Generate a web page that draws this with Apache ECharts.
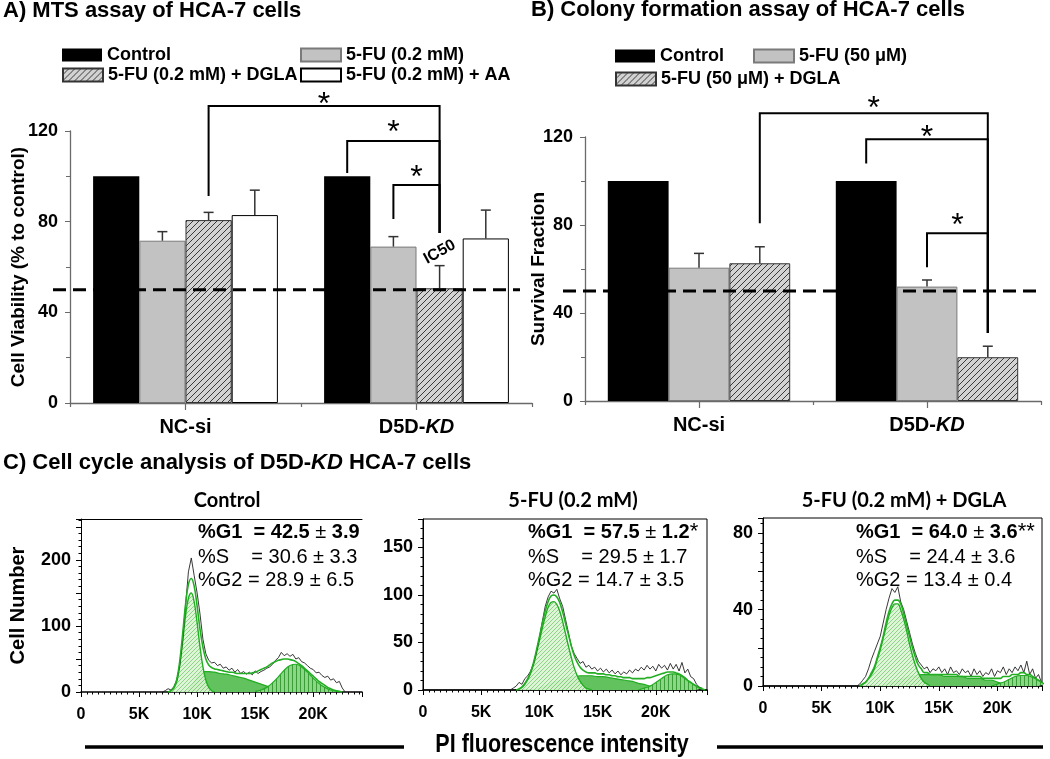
<!DOCTYPE html>
<html><head><meta charset="utf-8">
<script src="https://cdn.jsdelivr.net/npm/echarts@6/dist/echarts.min.js"></script>
<style>html,body{margin:0;padding:0;background:#fff}#c{width:1050px;height:759px}</style>
</head><body><div id="c"></div>
<script>
// ---------------- DATA ----------------
const CATEGORIES = ['NC-si', 'D5D-KD'];
// Panel A: MTS assay (% to control)
const A_NAMES = ['Control', '5-FU (0.2 mM)', '5-FU (0.2 mM) + DGLA', '5-FU (0.2 mM) + AA'];
const A_CONTROL = [100, 100];
const A_FU = [71.6, 69.0];
const A_FU_DGLA = [80.7, 50.6];
const A_FU_AA = [82.9, 72.6];
const A_ERR_FU = [4.0, 4.4];
const A_ERR_FU_DGLA = [3.4, 10.0];
const A_ERR_FU_AA = [11.0, 12.5];
// Panel B: colony formation (survival fraction)
const B_NAMES = ['Control', '5-FU (50 μM)', '5-FU (50 μM) + DGLA'];
const B_CONTROL = [100, 100];
const B_FU = [60.6, 52.0];
const B_FU_DGLA = [62.6, 19.9];
const B_ERR_FU = [6.5, 3.0];
const B_ERR_FU_DGLA = [7.5, 5.0];
const HALF_LINE = 50;
// significance brackets: [cat1, bar1, cat2, bar2, top, end1, end2, starY]
const A_BRACKETS = [[0, 2, 1, 2, 131, 91.3, 75, 135], [1, 0, 1, 2, 115.6, 101.5, 75, 122.7], [1, 1, 1, 2, 96.2, 81.2, 75, 102.8]];
const B_BRACKETS = [[0, 2, 1, 2, 130.8, 80.8, 30.9, 136.5], [1, 0, 1, 2, 119, 108, 30.9, 123], [1, 1, 1, 2, 76.3, 60.8, 30.9, 83.3]];
const IC50_LABEL = [1, 2, 66.6];
// Panel C: cell-cycle histograms (PI intensity bins)
const BIN = 250, COARSE = 500;
const C1_RAW_START = 7000;
const C1_RAW = [0,2,5,3,8,18,40,78,130,182,203,176,150,118,80,58,48,44,45,40,42,36,38,33,36,30,34,28,31,27,30,26,32,28,31,33,36,38,42,48,52,60,55,58,54,57,50,52,46,44,40,36,34,29,30,25,22,24,18,20,14,16,6,0];
const C1_G1_START = 7500;
const C1_G1 = [0,2,6,16,40,75,115,142,150,136,105,68,38,18,7,2,0];
const C1_FIT_START = 7500;
const C1_FIT = [0,2,7,19,46,87,132,163,172,160,130,95,68,50,41,37,35,34,33,32,31,30,30,29,28,28,28,28,28,29,30,32,34,36,38,41,44,46,48,49,50,50,49,48,46,43,40,36,32,28,24,20,16,13,10,7,5,3,2,1,0];
const C1_S_START = 9000;
const C1_S = [0,8,22,31,31,30,28,27,25,23,21,18,15,12,9,6,4,2,1,0];
const C1_G2_START = 15000;
const C1_G2 = [1,3,7,14,23,33,40,42,38,30,21,13,7,3,1,0];

const C2_RAW_START = 7500;
const C2_RAW = [0,2,4,8,6,12,15,20,28,40,55,72,88,98,104,102,106,96,88,74,60,46,38,33,28,30,24,26,22,24,20,23,19,22,18,21,17,20,16,19,17,21,18,22,20,24,21,26,22,25,20,27,23,26,21,28,22,27,20,29,18,22,14,12,6,3,0];
const C2_G1_START = 8000;
const C2_G1 = [0,1,3,6,11,18,27,39,52,65,77,87,92,93,90,83,72,59,46,34,23,15,9,5,2,1,0];
const C2_FIT_START = 8000;
const C2_FIT = [0,1,3,7,12,19,29,42,56,70,83,93,99,100,98,92,82,70,58,46,36,29,24,21,19,18,18,18,17,17,17,16,16,15,15,14,14,13,13,13,12,12,12,12,12,13,13,14,15,16,17,18,19,19,19,18,17,15,13,10,8,6,4,2,1,0];
const C2_S_START = 9500;
const C2_S = [0,2,4,7,9,11,13,14,15,15,15,14,14,13,12,11,10,9,7,6,4,3,2,1,0];
const C2_G2_START = 18500;
const C2_G2 = [0,2,4,8,12,16,17,16,12,8,4,2];

const C3_RAW_START = 8000;
const C3_RAW = [0,1,3,5,9,14,18,22,26,33,40,46,51,49,52,44,40,34,28,22,17,13,11,9,10,7,9,8,10,7,9,6,10,7,8,6,9,7,8,5,9,6,8,5,7,6,9,5,8,7,10,6,9,7,10,8,11,7,13,6,9,4,6,2];
const C3_G1_START = 8250;
const C3_G1 = [0,1,2,4,6,9,14,19,25,31,37,41,43,43,40,35,29,22,16,11,7,4,2,1,0];
const C3_FIT_START = 8250;
const C3_FIT = [0,1,2,4,7,10,15,20,26,33,39,43,45,45,43,38,32,26,20,15,11,9,7,7,6,6,6,6,6,6,6,6,6,6,5,5,5,5,5,5,5,5,4,4,4,4,4,4,4,5,5,5,6,6,6,7,7,6,6,5,4,3,2];
const C3_S_START = 10000;
const C3_S = [0,1,2,3,4,5,5,6,6,6,6,5,5,5,5,4,4,4,3,3,2,1,0];
const C3_G2_START = 19500;
const C3_G2 = [0,1,2,3.5,5,5.5,5.5,4.5,3,1];

const C_TITLES = ['Control', '5-FU (0.2 mM)', '5-FU (0.2 mM) + DGLA'];
const C_G1 = [['42.5', '3.9', ''], ['57.5', '1.2', '*'], ['64.0', '3.6', '**']];
const C_S = [['30.6', '3.3'], ['29.5', '1.7'], ['24.4', '3.6']];
const C_G2 = [['28.9', '6.5'], ['14.7', '3.5'], ['13.4', '0.4']];

// ---------------- STYLE HELPERS ----------------
const FONT = "'Liberation Sans', Arial, sans-serif";
const CAL = "Lato, 'Open Sans', sans-serif";
const GREEN = '#22ad22';

function pattern(bg, fg, size, kind, lw) {
  const cv = document.createElement('canvas'); cv.width = size; cv.height = size;
  const g = cv.getContext('2d'); g.fillStyle = bg; g.fillRect(0, 0, size, size);
  g.strokeStyle = fg; g.lineWidth = lw || 1; g.beginPath();
  if (kind === 'diag') {
    g.moveTo(0, size); g.lineTo(size, 0);
    g.moveTo(-size / 2, size / 2); g.lineTo(size / 2, -size / 2);
    g.moveTo(size / 2, size * 1.5); g.lineTo(size * 1.5, size / 2);
  } else { g.moveTo(0.5, 0); g.lineTo(0.5, size); }
  g.stroke();
  return { image: cv, repeat: 'repeat' };
}
const HATCH = pattern('#d2d2d2', '#3a3a3a', 6, 'diag', 1);
const G1_FILL = pattern('#dcf5d4', '#84d27c', 4, 'diag', 1);
const G2_FILL = pattern('#8ad885', '#3c9c38', 4, 'vert', 1);
const S_FILL = '#62c25d';

const kdRich = { i: { fontStyle: 'italic', fontWeight: 'bold', fontSize: 20, fontFamily: FONT, color: '#000' } };
function catAxis(gi, main) {
  if (main) return {
    type: 'category', gridIndex: gi, data: CATEGORIES, position: 'bottom',
    axisLine: { show: true, lineStyle: { color: '#6a6a6a', width: 1.3 } },
    axisTick: { show: true, alignWithLabel: true, length: 7, lineStyle: { color: '#6a6a6a', width: 1.2 } },
    axisLabel: { margin: 14, fontFamily: FONT, fontWeight: 'bold', fontSize: 20, color: '#000',
      formatter: v => v.replace('KD', '{i|KD}'), rich: kdRich },
    splitLine: { show: false }
  };
  return { type: 'category', gridIndex: gi, data: CATEGORIES, position: 'bottom', offset: 0,
    axisLine: { show: false }, axisTick: { show: true, interval: 0, length: 4, lineStyle: { color: '#6a6a6a', width: 1.2 } },
    axisLabel: { show: false }, splitLine: { show: false } };
}
function barY(gi, name, gap) {
  return { type: 'value', gridIndex: gi, min: 0, max: 120, interval: 40,
    axisLine: { show: true, lineStyle: { color: '#6a6a6a', width: 1.3 } },
    axisTick: { show: true, length: 5, lineStyle: { color: '#6a6a6a' } },
    minorTick: { show: true, splitNumber: 2, length: 4, lineStyle: { color: '#6a6a6a' } },
    splitLine: { show: false }, minorSplitLine: { show: false },
    axisLabel: { margin: 12, fontFamily: FONT, fontWeight: 'bold', fontSize: 18, color: '#000' },
    name, nameLocation: 'middle', nameGap: gap, nameMoveOverlap: false,
    nameTextStyle: { fontFamily: FONT, fontWeight: 'bold', fontSize: 19, color: '#000' } };
}
function histX(gi, max) {
  return { type: 'value', gridIndex: gi, min: 0, max, interval: 5000, position: 'bottom',
    axisLine: { show: true, onZero: false, lineStyle: { color: '#000', width: 1.5 } },
    axisTick: { show: true, length: 5, lineStyle: { color: '#000' } },
    minorTick: { show: true, splitNumber: 10, length: 2.5, lineStyle: { color: '#000' } },
    splitLine: { show: false }, minorSplitLine: { show: false },
    axisLabel: { showMaxLabel: false, margin: 15, fontFamily: FONT, fontWeight: 'bold', fontSize: 16, color: '#000',
      formatter: v => (v === 0 ? '0' : (v / 1000) + 'K') } };
}
function histY(gi, max, interval, every, split, name) {
  const o = { type: 'value', gridIndex: gi, min: 0, max, interval,
    axisLine: { show: true, onZero: false, lineStyle: { color: '#000', width: 1 } },
    axisTick: { show: true, length: 5, lineStyle: { color: '#000' } },
    minorTick: { show: true, splitNumber: split, length: 2.5, lineStyle: { color: '#000' } },
    splitLine: { show: false }, minorSplitLine: { show: false },
    axisLabel: { showMaxLabel: false, margin: 10, fontFamily: FONT, fontWeight: 'bold', fontSize: 18, color: '#000',
      formatter: v => (v % every === 0 ? String(v) : '') } };
  if (name) Object.assign(o, { name, nameLocation: 'middle', nameGap: 53, nameMoveOverlap: false,
    nameTextStyle: { fontFamily: FONT, fontWeight: 'bold', fontSize: 20, color: '#000' } });
  return o;
}

function barX(api, c, b, n) {
  const band = api.size([1, 0])[0];
  const bw = band * 0.8 / n;
  return api.coord([c, 0])[0] - band * 0.4 + bw * (b + 0.5);
}
function errRender(n) {
  return function (params, api) {
    const x = barX(api, api.value(0), api.value(1), n);
    const y0 = api.coord([0, api.value(2)])[1];
    const y1 = api.coord([0, api.value(2) + api.value(3)])[1];
    const st = { stroke: '#333', lineWidth: 1.5 };
    return { type: 'group', children: [
      { type: 'line', shape: { x1: x, y1: y0, x2: x, y2: y1 }, style: st },
      { type: 'line', shape: { x1: x - 5, y1: y1, x2: x + 5, y2: y1 }, style: st }] };
  };
}
function bracketRender(n) {
  return function (params, api) {
    const x1 = barX(api, api.value(0), api.value(1), n);
    const x2 = barX(api, api.value(2), api.value(3), n);
    const yT = api.coord([0, api.value(4)])[1];
    const y1 = api.coord([0, api.value(5)])[1];
    const y2 = api.coord([0, api.value(6)])[1];
    const ys = api.coord([0, api.value(7)])[1];
    return { type: 'group', children: [
      { type: 'polyline', shape: { points: [[x1, y1], [x1, yT], [x2, yT], [x2, y2]] }, style: { stroke: '#000', lineWidth: 2, fill: null } },
      { type: 'text', x: (x1 + x2) / 2, y: ys + 8, style: { text: '*', font: `32px ${FONT}`, fill: '#000',
        align: 'center', verticalAlign: 'middle', textAlign: 'center', textVerticalAlign: 'middle' } }] };
  };
}
function dashRender(extL, extR) {
  return function (params, api) {
    const cs = params.coordSys;
    const y = api.coord([0, api.value(1)])[1];
    return { type: 'line', shape: { x1: cs.x - extL, y1: y, x2: cs.x + cs.width - extR, y2: y },
      style: { stroke: '#000', lineWidth: 3, lineDash: [13, 7] } };
  };
}
function errData(list) {
  const out = [];
  list.forEach(([b, vals, errs]) => vals.forEach((v, c) => out.push([c, b, v, errs[c]])));
  return out;
}
function pts(start, step, vals) { return vals.map((v, i) => [start + i * step, v]); }
function histSeries(k, raw, rawS, g1, g1S, fit, fitS, s, sS, g2, g2S) {
  const ax = { xAxisIndex: 4 + k, yAxisIndex: 2 + k, symbol: 'none', silent: true, animation: false, type: 'line' };
  return [
    Object.assign({}, ax, { data: pts(sS, COARSE, s), smooth: 0.4, lineStyle: { color: GREEN, width: 1.2 }, areaStyle: { color: S_FILL, opacity: 1 }, z: 2 }),
    Object.assign({}, ax, { data: pts(g2S, COARSE, g2), smooth: 0.4, lineStyle: { color: GREEN, width: 1.2 }, areaStyle: { color: G2_FILL, opacity: 1 }, z: 3 }),
    Object.assign({}, ax, { data: pts(g1S, BIN, g1), smooth: 0.4, lineStyle: { color: GREEN, width: 1.4 }, areaStyle: { color: G1_FILL, opacity: 0.92 }, z: 4 }),
    Object.assign({}, ax, { data: pts(rawS, BIN, raw), lineStyle: { color: '#222', width: 0.9 }, z: 5 }),
    Object.assign({}, ax, { data: pts(fitS, BIN, fit), smooth: 0.4, lineStyle: { color: GREEN, width: 1.6 }, z: 6 })
  ];
}

const legendCommon = { padding: 0, itemWidth: 40, itemHeight: 13, icon: 'rect', selectedMode: false,
  textStyle: { fontFamily: FONT, fontWeight: 'bold', fontSize: 18, color: '#000', lineHeight: 20 } };
function lg(name, left, top) { return Object.assign({}, legendCommon, { data: [name], left, top }); }

// ---------------- GRAPHIC TEXT ----------------
const graphics = [];
function txt(x, y, text, font, align, extra, el) {
  graphics.push(Object.assign({ type: 'text', x, y, silent: true, style: Object.assign({ text, font, fill: '#000',
    align: align || 'left', verticalAlign: 'middle', textAlign: align || 'left', textVerticalAlign: 'middle' }, extra || {}) }, el || {}));
}
txt(3, 11, 'A) MTS assay of HCA-7 cells', `bold 22px ${FONT}`);
txt(531, 10, 'B) Colony formation assay of HCA-7 cells', `bold 22px ${FONT}`);
txt(3, 463, 'C) Cell cycle analysis of D5D-{i|KD} HCA-7 cells', `bold 22px ${FONT}`, 'left',
  { rich: { i: { font: `italic bold 22px ${FONT}`, fill: '#000' } } });
const subX = [227, 573, 904];
const statX = [198, 528, 856];
const statRich = { b: { font: `bold 20px ${FONT}`, fill: '#000' }, n: { font: `20px ${FONT}`, fill: '#000' },
  pm: { font: `20px ${FONT}`, fill: '#000' }, st: { font: `22px ${FONT}`, fill: '#000' } };
C_TITLES.forEach((t, i) => {
  txt(subX[i], 501, t, `bold 20px ${CAL}`, 'center');
  const g1 = C_G1[i], s = C_S[i], g2 = C_G2[i];
  txt(statX[i], 532, `{b|%G1  = ${g1[0]} }{pm|±}{b| ${g1[1]}}{st|${g1[2]}}`, `20px ${FONT}`, 'left', { rich: statRich });
  txt(statX[i], 557, `{n|%S    = ${s[0]} }{pm|±}{n| ${s[1]}}`, `20px ${FONT}`, 'left', { rich: statRich });
  txt(statX[i], 580, `{n|%G2 = ${g2[0]} }{pm|±}{n| ${g2[1]}}`, `20px ${FONT}`, 'left', { rich: statRich });
});
txt(562, 745, 'PI fluorescence intensity', `bold 25px ${FONT}`, 'center', null, { scaleX: 0.86 });
graphics.push({ type: 'line', silent: true, shape: { x1: 85, y1: 747, x2: 404, y2: 747 }, style: { stroke: '#000', lineWidth: 3.5 } });
graphics.push({ type: 'line', silent: true, shape: { x1: 717, y1: 747, x2: 1043, y2: 747 }, style: { stroke: '#000', lineWidth: 3.5 } });

// ---------------- OPTION ----------------
const barBase = { type: 'bar', barGap: '0%', barCategoryGap: '20%', animation: false, silent: true };
const blackStyle = { color: '#000' };
const grayStyle = { color: '#c2c2c2', borderColor: '#7a7a7a', borderWidth: 1 };
const hatchStyle = { color: HATCH, borderColor: '#333', borderWidth: 1 };
const whiteStyle = { color: '#fff', borderColor: '#000', borderWidth: 1 };

const option = {
  backgroundColor: '#fff',
  animation: false,
  graphic: graphics,
  legend: [
    lg(A_NAMES[0], 62, 45), lg(A_NAMES[1], 300, 45), lg(A_NAMES[2], 62, 65), lg(A_NAMES[3], 300, 65),
    lg(B_NAMES[0], 615, 46), lg(B_NAMES[1], 753, 46), lg(B_NAMES[2], 615, 69)
  ],
  grid: [
    { left: 70, top: 131, width: 462, height: 272 },
    { left: 585, top: 137, width: 456, height: 264 },
    { left: 81, top: 519, width: 281, height: 173 },
    { left: 423, top: 519, width: 284, height: 171, show: true, borderColor: '#000', borderWidth: 1, backgroundColor: 'transparent' },
    { left: 763, top: 518, width: 279, height: 168, show: true, borderColor: '#000', borderWidth: 1, backgroundColor: 'transparent' }
  ],
  xAxis: [
    catAxis(0, true), catAxis(0, false), catAxis(1, true), catAxis(1, false),
    histX(2, 24200), histX(3, 24400), histX(4, 23800),
    { type: 'value', gridIndex: 2, position: 'top', min: 0, max: 24200, axisLine: { show: true, onZero: false, lineStyle: { color: '#000', width: 1 } },
      axisTick: { show: false }, axisLabel: { show: false }, splitLine: { show: false } }
  ],
  yAxis: [
    barY(0, 'Cell Viability (% to control)', 42),
    barY(1, 'Survival Fraction', 37),
    histY(2, 262, 50, 100, 5, 'Cell Number'),
    histY(3, 180, 50, 50, 5),
    histY(4, 88, 20, 40, 4)
  ],
  series: [
    Object.assign({}, barBase, { name: A_NAMES[0], xAxisIndex: 0, yAxisIndex: 0, data: A_CONTROL, itemStyle: blackStyle }),
    Object.assign({}, barBase, { name: A_NAMES[1], xAxisIndex: 0, yAxisIndex: 0, data: A_FU, itemStyle: grayStyle }),
    Object.assign({}, barBase, { name: A_NAMES[2], xAxisIndex: 0, yAxisIndex: 0, data: A_FU_DGLA, itemStyle: hatchStyle }),
    Object.assign({}, barBase, { name: A_NAMES[3], xAxisIndex: 0, yAxisIndex: 0, data: A_FU_AA, itemStyle: whiteStyle }),
    { type: 'custom', xAxisIndex: 0, yAxisIndex: 0, z: 10, clip: false, silent: true, encode: { x: 0, y: 2 },
      data: errData([[1, A_FU, A_ERR_FU], [2, A_FU_DGLA, A_ERR_FU_DGLA], [3, A_FU_AA, A_ERR_FU_AA]]), renderItem: errRender(4) },
    { type: 'custom', xAxisIndex: 0, yAxisIndex: 0, z: 11, clip: false, silent: true, encode: { x: 0, y: 1 },
      data: [[0, HALF_LINE]], renderItem: dashRender(17, 12) },
    { type: 'custom', xAxisIndex: 0, yAxisIndex: 0, z: 12, clip: false, silent: true, encode: { x: 0, y: 4 },
      data: A_BRACKETS, renderItem: bracketRender(4) },
    { type: 'custom', xAxisIndex: 0, yAxisIndex: 0, z: 12, clip: false, silent: true, encode: { x: 0, y: 2 },
      data: [IC50_LABEL], renderItem: function (params, api) {
        const x = barX(api, api.value(0), api.value(1), 4);
        const y = api.coord([0, api.value(2)])[1];
        return { type: 'text', x, y, rotation: 0.5, style: { text: 'IC50', font: `bold 16px ${FONT}`, fill: '#000',
          align: 'center', verticalAlign: 'middle', textAlign: 'center', textVerticalAlign: 'middle' } };
      } },

    Object.assign({}, barBase, { name: B_NAMES[0], xAxisIndex: 2, yAxisIndex: 1, data: B_CONTROL, itemStyle: blackStyle }),
    Object.assign({}, barBase, { name: B_NAMES[1], xAxisIndex: 2, yAxisIndex: 1, data: B_FU, itemStyle: grayStyle }),
    Object.assign({}, barBase, { name: B_NAMES[2], xAxisIndex: 2, yAxisIndex: 1, data: B_FU_DGLA, itemStyle: hatchStyle }),
    { type: 'custom', xAxisIndex: 2, yAxisIndex: 1, z: 10, clip: false, silent: true, encode: { x: 0, y: 2 },
      data: errData([[1, B_FU, B_ERR_FU], [2, B_FU_DGLA, B_ERR_FU_DGLA]]), renderItem: errRender(3) },
    { type: 'custom', xAxisIndex: 2, yAxisIndex: 1, z: 11, clip: false, silent: true, encode: { x: 0, y: 1 },
      data: [[0, HALF_LINE]], renderItem: dashRender(22, 1) },
    { type: 'custom', xAxisIndex: 2, yAxisIndex: 1, z: 12, clip: false, silent: true, encode: { x: 0, y: 4 },
      data: B_BRACKETS, renderItem: bracketRender(3) }
  ].concat(
    histSeries(0, C1_RAW, C1_RAW_START, C1_G1, C1_G1_START, C1_FIT, C1_FIT_START, C1_S, C1_S_START, C1_G2, C1_G2_START),
    histSeries(1, C2_RAW, C2_RAW_START, C2_G1, C2_G1_START, C2_FIT, C2_FIT_START, C2_S, C2_S_START, C2_G2, C2_G2_START),
    histSeries(2, C3_RAW, C3_RAW_START, C3_G1, C3_G1_START, C3_FIT, C3_FIT_START, C3_S, C3_S_START, C3_G2, C3_G2_START)
  )
};
const chart = echarts.init(document.getElementById('c'), null, { renderer: 'canvas' });
chart.setOption(option);
</script></body></html>
